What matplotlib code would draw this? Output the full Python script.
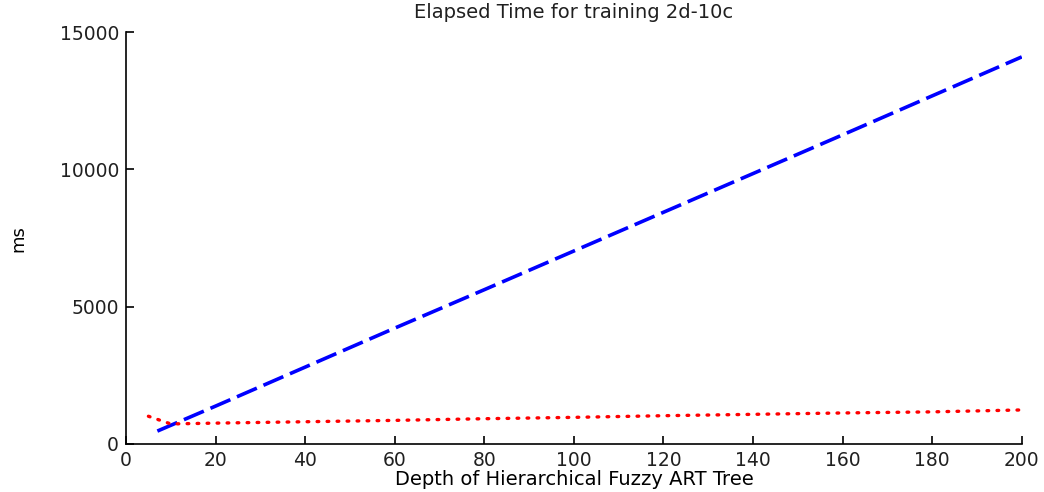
import matplotlib.pyplot as plt

# depth values and elapsed times (ms)
depth_blue = [7, 20, 40, 60, 80, 100, 120, 140, 160, 180, 200]
time_blue = [470, 1380, 2800, 4220, 5620, 7030, 8440, 9850, 11260, 12680, 14100]

depth_red = [5, 10, 20, 40, 60, 80, 100, 120, 140, 160, 180, 200]
time_red = [1010, 730, 760, 810, 860, 920, 970, 1030, 1080, 1130, 1170, 1240]

xticks = [0, 20, 40, 60, 80, 100, 120, 140, 160, 180, 200]
yticks = [0, 5000, 10000, 15000]

plt.rcParams['font.family'] = ['DejaVu Sans']
plt.rcParams['text.color'] = '#202020'

fig = plt.figure(figsize=(10.44, 4.92), dpi=100)
ax = fig.add_axes([0.1207, 0.0976, 0.858, 0.837])

ax.plot(depth_blue, time_blue, color='#0000ff', linewidth=2.6,
        linestyle=(0, (6, 2)))
ax.plot(depth_red, time_red, color='#ff0000', linewidth=2.4,
        linestyle=(0, (0.5, 2.5)), dash_capstyle='round')

ax.set_xlim(0, 200)
ax.set_ylim(0, 15000)
ax.set_xticks(xticks)
ax.set_yticks(yticks)
ax.tick_params(direction='in', length=6, width=1.2, labelsize=13.5, pad=5,
               labelcolor='#202020')
for s in ['top', 'right']:
    ax.spines[s].set_visible(False)
for s in ['left', 'bottom']:
    ax.spines[s].set_linewidth(1.2)

ax.set_title('Elapsed Time for training 2d-10c', fontsize=14, pad=10)
ax.set_xlabel('Depth of Hierarchical Fuzzy ART Tree', fontsize=14, labelpad=0)
ax.set_ylabel('ms', fontsize=13, va='center')
ax.yaxis.set_label_coords(-0.12, 0.5)

fig.savefig('out.png', dpi=100)
